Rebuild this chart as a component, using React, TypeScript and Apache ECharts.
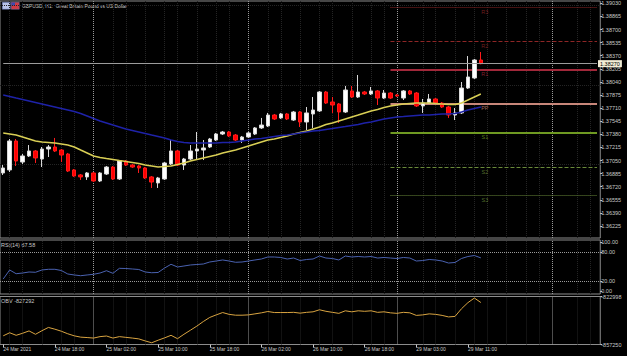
import React, { useEffect, useRef } from "react";
import * as echarts from "echarts";

// ---------- time axis ----------
const dayBlocks = [
  { day: "24 Mar", from: 10, to: 23 },
  { day: "25 Mar", from: 0, to: 23 },
  { day: "26 Mar", from: 0, to: 22 },
  { day: "29 Mar", from: 0, to: 13 },
];
const PAD_BARS = 18; // empty chart-shift space on the right
const timeTickLabels = [
  "24 Mar 2021", "24 Mar 18:00", "25 Mar 02:00", "25 Mar 10:00", "25 Mar 18:00",
  "26 Mar 02:00", "26 Mar 10:00", "26 Mar 18:00", "29 Mar 03:00", "29 Mar 11:00",
];
const TICK_EVERY = 8;
const daySeparators = [14, 38, 61, 85];

// ---------- price data (GBPUSD H1) ----------
const opens = [
  1.36893, 1.36931, 1.37296, 1.37031, 1.37107, 1.37170, 1.37069, 1.37195, 1.37220, 1.37182,
  1.37132, 1.36931, 1.36868, 1.36843, 1.36893, 1.36792, 1.36880, 1.36968, 1.36817, 1.37044,
  1.36993, 1.36981, 1.36956, 1.36843, 1.36767, 1.36817, 1.37006, 1.37170, 1.36993, 1.37069,
  1.37170, 1.37182, 1.37220, 1.37308, 1.37384, 1.37409, 1.37371, 1.37308, 1.37346, 1.37384,
  1.37460, 1.37485, 1.37623, 1.37586, 1.37636, 1.37560, 1.37661, 1.37535, 1.37636, 1.37674,
  1.37913, 1.37787, 1.37762, 1.37661, 1.37926, 1.37850, 1.37913, 1.37888, 1.37926, 1.37837,
  1.37900, 1.37875, 1.37837, 1.37926, 1.37900, 1.37737, 1.37774, 1.37825, 1.37774, 1.37724,
  1.37623, 1.37649, 1.37963, 1.38089, 1.38316,
];
const closes = [
  1.36956, 1.37296, 1.37044, 1.37107, 1.37170, 1.37082, 1.37195, 1.37220, 1.37170, 1.37119,
  1.36918, 1.36855, 1.36843, 1.36893, 1.36792, 1.36893, 1.36968, 1.36817, 1.37044, 1.36993,
  1.36968, 1.36956, 1.36830, 1.36779, 1.36830, 1.37019, 1.37170, 1.36993, 1.37069, 1.37170,
  1.37195, 1.37208, 1.37321, 1.37384, 1.37409, 1.37359, 1.37308, 1.37346, 1.37397, 1.37460,
  1.37497, 1.37623, 1.37573, 1.37636, 1.37573, 1.37661, 1.37535, 1.37649, 1.37686, 1.37913,
  1.37774, 1.37749, 1.37661, 1.37938, 1.37850, 1.37913, 1.37888, 1.37926, 1.37837, 1.37900,
  1.37837, 1.37863, 1.37926, 1.37888, 1.37737, 1.37774, 1.37825, 1.37774, 1.37724, 1.37623,
  1.37649, 1.37963, 1.38102, 1.38316, 1.38270,
];
const lows = [
  1.36868, 1.36905, 1.36981, 1.37006, 1.37094, 1.37019, 1.36968, 1.37094, 1.37157, 1.37031,
  1.36905, 1.36843, 1.36805, 1.36805, 1.36779, 1.36779, 1.36868, 1.36805, 1.36805, 1.36981,
  1.36956, 1.36893, 1.36817, 1.36704, 1.36704, 1.36805, 1.36993, 1.36981, 1.36931, 1.37056,
  1.37056, 1.37056, 1.37208, 1.37296, 1.37371, 1.37346, 1.37296, 1.37271, 1.37334, 1.37371,
  1.37447, 1.37472, 1.37560, 1.37573, 1.37560, 1.37548, 1.37472, 1.37434, 1.37460, 1.37661,
  1.37762, 1.37649, 1.37523, 1.37649, 1.37837, 1.37837, 1.37875, 1.37875, 1.37749, 1.37825,
  1.37825, 1.37850, 1.37812, 1.37875, 1.37724, 1.37649, 1.37762, 1.37762, 1.37711, 1.37586,
  1.37560, 1.37636, 1.37951, 1.38077, 1.38262,
];
const highs = [
  1.36993, 1.37321, 1.37321, 1.37132, 1.37245, 1.37182, 1.37220, 1.37245, 1.37334, 1.37195,
  1.37145, 1.36943, 1.36880, 1.36905, 1.36905, 1.36905, 1.36981, 1.36981, 1.37056, 1.37056,
  1.37006, 1.36993, 1.36968, 1.36855, 1.36843, 1.37031, 1.37308, 1.37182, 1.37082, 1.37245,
  1.37409, 1.37308, 1.37334, 1.37397, 1.37422, 1.37422, 1.37384, 1.37359, 1.37409, 1.37472,
  1.37586, 1.37649, 1.37636, 1.37649, 1.37649, 1.37674, 1.37674, 1.37724, 1.37850, 1.37926,
  1.37926, 1.37850, 1.37774, 1.37989, 1.37989, 1.38127, 1.37926, 1.37976, 1.37938, 1.37938,
  1.37913, 1.37888, 1.37938, 1.37938, 1.37913, 1.37825, 1.37888, 1.37837, 1.37787, 1.37737,
  1.37711, 1.38039, 1.38366, 1.38329, 1.38417,
];
const maFast = [
  1.37397, 1.37384, 1.37371, 1.37346, 1.37321, 1.37296, 1.37283, 1.37277, 1.37271, 1.37258,
  1.37245, 1.37220, 1.37182, 1.37145, 1.37107, 1.37088, 1.37075, 1.37063, 1.37050, 1.37038,
  1.37025, 1.37012, 1.36994, 1.36981, 1.36968, 1.36975, 1.36981, 1.37000, 1.37019, 1.37044,
  1.37063, 1.37082, 1.37101, 1.37120, 1.37145, 1.37164, 1.37182, 1.37208, 1.37233, 1.37258,
  1.37283, 1.37308, 1.37321, 1.37340, 1.37359, 1.37384, 1.37403, 1.37422, 1.37447, 1.37472,
  1.37504, 1.37523, 1.37548, 1.37573, 1.37598, 1.37623, 1.37649, 1.37674, 1.37693, 1.37718,
  1.37737, 1.37749, 1.37762, 1.37768, 1.37774, 1.37774, 1.37774, 1.37768, 1.37762, 1.37756,
  1.37756, 1.37774, 1.37812, 1.37850, 1.37888,
];
const maSlow = [
  1.37875, 1.37856, 1.37837, 1.37819, 1.37800, 1.37781, 1.37762, 1.37743, 1.37724, 1.37705,
  1.37686, 1.37667, 1.37642, 1.37611, 1.37579, 1.37548, 1.37523, 1.37497, 1.37472, 1.37447,
  1.37428, 1.37409, 1.37390, 1.37371, 1.37353, 1.37334, 1.37308, 1.37290, 1.37277, 1.37271,
  1.37271, 1.37271, 1.37271, 1.37271, 1.37277, 1.37277, 1.37283, 1.37296, 1.37308, 1.37321,
  1.37327, 1.37340, 1.37353, 1.37365, 1.37371, 1.37384, 1.37397, 1.37409, 1.37422, 1.37428,
  1.37441, 1.37453, 1.37466, 1.37478, 1.37491, 1.37504, 1.37523, 1.37535, 1.37554, 1.37573,
  1.37586, 1.37598, 1.37604, 1.37611, 1.37617, 1.37623, 1.37623, 1.37630, 1.37636, 1.37636,
  1.37642, 1.37661, 1.37686, 1.37705, 1.37724,
];
const rsiValues = [
  24.5, 42.9, 35.3, 36.7, 38.8, 38.2, 42.9, 44.3, 44.3, 41.8,
  34.7, 32.7, 31.2, 32.7, 34.1, 36.7, 41.4, 36.1, 46.3, 45.9,
  44.9, 43.9, 38.8, 37.3, 37.8, 46.9, 54.5, 49.0, 51.0, 53.1,
  54.1, 55.1, 59.2, 61.2, 63.3, 61.2, 58.6, 59.2, 61.2, 63.3,
  65.3, 69.4, 69.4, 68.4, 65.3, 67.3, 62.2, 64.3, 65.3, 71.4,
  67.3, 66.3, 63.3, 71.4, 69.4, 70.4, 69.4, 70.4, 67.3, 68.4,
  67.3, 66.3, 68.4, 67.3, 61.2, 62.2, 64.3, 63.3, 61.2, 57.1,
  58.2, 66.3, 70.4, 72.4, 67.58,
];
const obvValues = [
  -851057, -848870, -850692, -849235, -847559, -849964, -847413, -845081, -846320, -847777,
  -849599, -851057, -852004, -852296, -852660, -851640, -851203, -852660, -851640, -852150,
  -852660, -853243, -854701, -856013, -854191, -852514, -850692, -853097, -849964, -847048,
  -844133, -840854, -837938, -836116, -834440, -835752, -836335, -836335, -836116, -835388,
  -834659, -833711, -834440, -834440, -834440, -834294, -834877, -834294, -833930, -832472,
  -833566, -834294, -835023, -833201, -833930, -833201, -833566, -833201, -834294, -833930,
  -834659, -835023, -834294, -834659, -836481, -836116, -835388, -835752, -836481, -837574,
  -837210, -831744, -827371, -824091, -827292,
];
const bidPrice = 1.38270;

// pivot levels of the day
const pivotNames = ["R3", "R2", "R1", "PP", "S1", "S2", "S3"];
const pivotValues = [1.38982, 1.38555, 1.38190, 1.37762, 1.37400, 1.36968, 1.36608];
const pivotStart = 60;

// axis ticks
const priceTicks = [
  1.39030, 1.38865, 1.38700, 1.38535, 1.38370, 1.38205, 1.38040, 1.37875, 1.37710,
  1.37545, 1.37380, 1.37215, 1.37050, 1.36885, 1.36720, 1.36555, 1.36390, 1.36225,
];
const rsiTicks = [100, 80, 20, 0];
const rsiLevels = [80, 20];
const obvTicks = [-822998, -857250];
const GRID_STEP_BARS = 8 / 3; // faint chart grid: 9 cells per day

// ---------- styles ----------
const FONT = "Liberation Sans, Arial, sans-serif";
const TXT = "#c8c8c8";
const BORDER = "#8c8c8c";
const SEP = "#9a9a9a";
const FAINT = "#242424";
const pivotStyles = [
  { color: "#8e2626", type: "dotted", width: 1 },
  { color: "#8e2626", type: "dashed", width: 1 },
  { color: "#a1283a", type: "solid", width: 2 },
  { color: "#c8877a", type: "solid", width: 2 },
  { color: "#6f9a22", type: "solid", width: 2 },
  { color: "#6a8a3a", type: "dashed", width: 1 },
  { color: "#6a8a3a", type: "dotted", width: 1 },
];

export default function App() {
  const ref = useRef<HTMLDivElement>(null);

  useEffect(() => {
    const el = ref.current;
    if (!el) return;
    const chart = echarts.init(el, null, { renderer: "svg" });

    const categories: string[] = [];
    dayBlocks.forEach((b) => {
      for (let h = b.from; h <= b.to; h++) categories.push(`${b.day} ${String(h).padStart(2, "0")}:00`);
    });
    const nBars = categories.length;
    for (let i = 0; i < PAD_BARS; i++) categories.push("");
    const lastIdx = categories.length - 1;

    const candleData = opens.map((o, i) => [o, closes[i], lows[i], highs[i]]);

    const GL = -4.25;
    const GW = 604.5;
    const grids = [
      { left: GL, width: GW, top: 1, height: 237 },
      { left: GL, width: GW, top: 240, height: 54 },
      { left: GL, width: GW, top: 296.5, height: 48 },
    ].map((g) => ({ ...g, show: true, borderColor: BORDER, borderWidth: 1, backgroundColor: "transparent" }));

    const showTick = (i: number) => i % TICK_EVERY === 0 && i < nBars;

    const xAxes = [0, 1, 2].map((gi) => ({
      type: "category",
      gridIndex: gi,
      data: categories,
      boundaryGap: true,
      axisLine: { show: false },
      splitLine: { show: false },
      axisTick:
        gi === 2
          ? { show: true, alignWithLabel: true, interval: (i: number) => showTick(i), length: 3, lineStyle: { color: TXT } }
          : { show: false },
      axisLabel:
        gi === 2
          ? {
              show: true,
              interval: (i: number) => showTick(i),
              formatter: (_v: string, i: number) => timeTickLabels[i / TICK_EVERY] ?? "",
              align: "left",
              margin: 2,
              fontSize: 5,
              color: TXT,
              fontFamily: FONT,
            }
          : { show: false },
    }));

    const yLabel = (fmt: (v: number) => string, vals: number[]) => ({
      customValues: vals,
      formatter: fmt,
      fontSize: 5.5,
      color: TXT,
      fontFamily: FONT,
      margin: 1,
    });

    const yAxes = [
      {
        type: "value",
        gridIndex: 0,
        position: "right",
        min: 1.36074,
        max: 1.39059,
        axisLine: { show: false },
        splitLine: { show: false },
        axisTick: { show: true, customValues: priceTicks, length: 2, lineStyle: { color: TXT } },
        axisLabel: yLabel((v) => v.toFixed(5), priceTicks),
      },
      {
        type: "value",
        gridIndex: 1,
        position: "right",
        min: -6.12,
        max: 104.08,
        axisLine: { show: false },
        splitLine: { show: false },
        axisTick: { show: true, customValues: rsiTicks, length: 2, lineStyle: { color: TXT } },
        axisLabel: yLabel((v) => v.toFixed(2), rsiTicks),
      },
      {
        type: "value",
        gridIndex: 2,
        position: "right",
        min: -857250,
        max: -822998,
        axisLine: { show: false },
        splitLine: { show: false },
        axisTick: { show: true, customValues: obvTicks, length: 2, lineStyle: { color: TXT } },
        axisLabel: yLabel((v) => String(Math.round(v)), obvTicks),
      },
    ];

    // faint vertical chart grid positions (in bar units), anchored on the first day separator
    const faintX: number[] = [];
    for (let p = daySeparators[0]; p > 0; p -= GRID_STEP_BARS) faintX.unshift(p);
    for (let p = daySeparators[0] + GRID_STEP_BARS; p < lastIdx; p += GRID_STEP_BARS) faintX.push(p);
    const faintV = faintX
      .filter((p) => daySeparators.every((s) => Math.abs(s - p) > 1.2))
      .map((p) => ({ xAxis: p, lineStyle: { color: FAINT, type: "dotted", width: 1 } }));
    const faintH = priceTicks.map((v) => ({ yAxis: v, lineStyle: { color: FAINT, type: "dotted", width: 1 } }));

    const sepLines = daySeparators.map((x) => ({
      xAxis: x,
      lineStyle: { color: SEP, type: "dotted", width: 1 },
    }));
    const baseMark = { symbol: ["none", "none"], silent: true, label: { show: false } };
    const backMark = { ...baseMark, z: 1 };

    const option = {
      animation: false,
      backgroundColor: "#000000",
      grid: grids,
      xAxis: xAxes,
      yAxis: yAxes,
      series: [
        {
          type: "line",
          name: "grid",
          xAxisIndex: 0,
          yAxisIndex: 0,
          data: [],
          z: 0,
          markLine: { ...backMark, z: 0, data: [...faintV, ...faintH] },
        },
        {
          type: "line",
          name: "bid",
          xAxisIndex: 0,
          yAxisIndex: 0,
          data: [],
          showSymbol: false,
          markLine: {
            ...baseMark,
            z: 3,
            data: [
              [
                {
                  coord: [0, bidPrice],
                  lineStyle: { color: "#9c9c9c", type: "solid", width: 1 },
                  label: {
                    show: true,
                    position: "end",
                    distance: 1,
                    formatter: bidPrice.toFixed(5),
                    backgroundColor: "#f3edd6",
                    color: "#000000",
                    fontSize: 5.5,
                    fontFamily: FONT,
                    padding: [1, 2, 0, 2],
                  },
                },
                { coord: [lastIdx, bidPrice] },
              ],
            ],
          },
        },
        {
          type: "candlestick",
          name: "GBPUSD",
          xAxisIndex: 0,
          yAxisIndex: 0,
          data: candleData,
          barWidth: 4,
          z: 2,
          itemStyle: {
            color: "#ffffff",
            color0: "#ff0000",
            borderColor: "#d8d8d8",
            borderColor0: "#ff1a1a",
            borderWidth: 1,
          },
        },
        {
          type: "line",
          name: "MA fast",
          xAxisIndex: 0,
          yAxisIndex: 0,
          data: maFast,
          showSymbol: false,
          z: 3,
          lineStyle: { color: "#d9cf55", width: 1.5 },
          markLine: { ...backMark, data: sepLines },
        },
        {
          type: "line",
          name: "MA slow",
          xAxisIndex: 0,
          yAxisIndex: 0,
          data: maSlow,
          showSymbol: false,
          z: 3,
          lineStyle: { color: "#1e22a8", width: 1.5 },
          markLine: {
            ...backMark,
            data: pivotValues.map((v, i) => [
              { coord: [pivotStart, v], lineStyle: pivotStyles[i] },
              { coord: [lastIdx, v] },
            ]),
          },
        },
        {
          type: "scatter",
          name: "pivot labels",
          xAxisIndex: 0,
          yAxisIndex: 0,
          symbolSize: 1,
          itemStyle: { color: "transparent" },
          silent: true,
          data: pivotValues.map((v, i) => ({
            name: pivotNames[i],
            value: [nBars - 1, v],
            label: { color: pivotStyles[i].color },
          })),
          label: {
            show: true,
            position: "bottom",
            distance: 1,
            offset: [4, 0],
            formatter: "{b}",
            fontSize: 5.5,
            fontFamily: FONT,
          },
        },
        {
          type: "line",
          name: "RSI(14)",
          xAxisIndex: 1,
          yAxisIndex: 1,
          data: rsiValues,
          showSymbol: false,
          z: 3,
          lineStyle: { color: "#4a62b0", width: 1 },
          markLine: {
            ...backMark,
            data: [
              ...faintV,
              ...rsiLevels.map((v) => ({ yAxis: v, lineStyle: { color: SEP, type: "dotted", width: 1 } })),
              ...sepLines,
            ],
          },
        },
        {
          type: "line",
          name: "OBV",
          xAxisIndex: 2,
          yAxisIndex: 2,
          data: obvValues,
          showSymbol: false,
          z: 3,
          lineStyle: { color: "#d9a441", width: 1 },
          markLine: { ...backMark, data: [...faintV, ...sepLines] },
        },
      ],
      graphic: [
        { type: "rect", left: 2, top: 2, shape: { width: 8, height: 7 }, style: { fill: "#b9c3e8", stroke: "#5a6aa8", lineWidth: 0.5 } },
        { type: "rect", left: 11, top: 2, shape: { width: 8, height: 7 }, style: { fill: "#d23a44", stroke: "#7a7ab0", lineWidth: 0.5 } },
        { type: "rect", left: 11.5, top: 2.5, shape: { width: 3.5, height: 3 }, style: { fill: "#3a4ab0" } },
        {
          type: "text",
          left: 22,
          top: 3.5,
          style: { text: "GBPUSD, H1:  Great Britain Pound vs US Dollar", fill: TXT, fontSize: 4.9, fontFamily: FONT },
        },
        {
          type: "text",
          left: 1,
          top: 241.5,
          style: { text: `RSI(14) ${rsiValues[rsiValues.length - 1].toFixed(2)}`, fill: TXT, fontSize: 5.5, fontFamily: FONT },
        },
        {
          type: "text",
          left: 1,
          top: 298,
          style: { text: `OBV ${obvValues[obvValues.length - 1]}`, fill: TXT, fontSize: 5.5, fontFamily: FONT },
        },
      ],
    };

    chart.setOption(option as any);
    return () => chart.dispose();
  }, []);

  return (
    <div
      ref={ref}
      style={{ position: "fixed", left: 0, top: 0, width: 627, height: 356, background: "#000" }}
    />
  );
}
